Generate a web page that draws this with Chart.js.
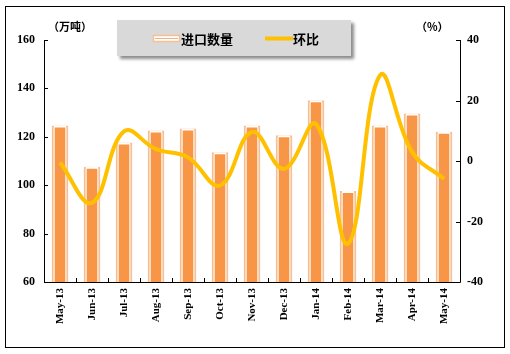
<!DOCTYPE html>
<html>
<head>
<meta charset="utf-8">
<script src="https://cdn.jsdelivr.net/npm/chart.js@4/dist/chart.umd.min.js"></script>
<style>
  html, body { margin: 0; padding: 0; background: #fff; }
  canvas { display: block; }
</style>
</head>
<body>
<canvas id="chart" width="510" height="354"></canvas>
<script>
"use strict";

// data
var months = ["May-13", "Jun-13", "Jul-13", "Aug-13", "Sep-13", "Oct-13", "Nov-13",
              "Dec-13", "Jan-14", "Feb-14", "Mar-14", "Apr-14", "May-14"];
var importVolume = [124.5, 107.5, 117.5, 122.5, 123.3, 113.5, 124.5, 120.5, 135, 97.5, 124.5, 129.5, 122];
var momChange = [-0.5, -13.8, 9.8, 3.9, 1.2, -8.1, 9.6, -2.6, 12.2, -27.3, 28.3, 3, -5.9];

var leftTicks = { min: 60, max: 160, step: 20 };
var rightTicks = { min: -40, max: 40, step: 20 };

var seriesNames = ["进口数量", "环比"];
var unitLeft = "（万吨）";
var unitRight = "（%）";

var ORANGE = "#F79646";
var PEACH = "#F8BF93";
var GOLD = "#FFC000";

var tickFont = { family: "'Liberation Serif', 'DejaVu Serif', serif", size: 12, weight: "bold" };
var cjkFont = "'Noto Sans CJK SC', sans-serif";

// frame, legend box, axis lines and inner tick marks
var decorPlugin = {
    id: "decor",
    beforeDraw: function (chart) {
        var ctx = chart.ctx;
        ctx.save();
        ctx.fillStyle = "#fff";
        ctx.fillRect(0, 0, chart.width, chart.height);
        ctx.restore();
    },
    afterDatasetsDraw: function (chart) {
        var ctx = chart.ctx;
        var area = chart.chartArea;
        var y = chart.scales.y;
        var y1 = chart.scales.y1;
        var i, p;

        ctx.save();
        ctx.strokeStyle = "#000";
        ctx.lineWidth = 1;

        // axis lines
        ctx.beginPath();
        ctx.moveTo(Math.round(area.left) + 0.5, area.top);
        ctx.lineTo(Math.round(area.left) + 0.5, Math.round(area.bottom) + 0.5);
        ctx.lineTo(Math.round(area.right) + 0.5, Math.round(area.bottom) + 0.5);
        ctx.lineTo(Math.round(area.right) + 0.5, area.top);
        ctx.stroke();

        // ticks pointing inward
        ctx.beginPath();
        for (i = leftTicks.min; i <= leftTicks.max; i += leftTicks.step) {
            p = Math.round(y.getPixelForValue(i)) + 0.5;
            ctx.moveTo(area.left, p);
            ctx.lineTo(area.left + 4, p);
        }
        for (i = rightTicks.min; i <= rightTicks.max; i += rightTicks.step) {
            p = Math.round(y1.getPixelForValue(i)) + 0.5;
            ctx.moveTo(area.right, p);
            ctx.lineTo(area.right - 4, p);
        }
        var slot = (area.right - area.left) / months.length;
        for (i = 1; i < months.length; i++) {
            p = Math.round(area.left + i * slot) + 0.5;
            ctx.moveTo(p, area.bottom);
            ctx.lineTo(p, area.bottom - 4);
        }
        ctx.stroke();

        // unit labels
        ctx.fillStyle = "#000";
        ctx.font = "bold 11px " + cjkFont;
        ctx.textBaseline = "middle";
        ctx.textAlign = "left";
        ctx.fillText(unitLeft, 48, 27);
        ctx.fillText(unitRight, 416, 27);

        // legend box with shadow
        ctx.save();
        ctx.shadowColor = "rgba(0,0,0,0.45)";
        ctx.shadowOffsetX = 3;
        ctx.shadowOffsetY = 3;
        ctx.shadowBlur = 3;
        ctx.fillStyle = "#D9D9D9";
        ctx.fillRect(117, 20, 234, 36);
        ctx.restore();

        // bar swatch
        ctx.fillStyle = "#fff";
        ctx.fillRect(153, 35, 27, 7);
        ctx.strokeStyle = PEACH;
        ctx.lineWidth = 1.5;
        ctx.strokeRect(153.5, 35.5, 26, 6);
        ctx.strokeStyle = "#F2B07A";
        ctx.lineWidth = 1;
        ctx.beginPath();
        ctx.moveTo(155, 38.5);
        ctx.lineTo(178, 38.5);
        ctx.stroke();

        // line swatch
        ctx.strokeStyle = GOLD;
        ctx.lineWidth = 4;
        ctx.beginPath();
        ctx.moveTo(265, 38.5);
        ctx.lineTo(293, 38.5);
        ctx.stroke();

        ctx.fillStyle = "#000";
        ctx.font = "bold 13px " + cjkFont;
        ctx.fillText(seriesNames[0], 181, 39);
        ctx.fillText(seriesNames[1], 293, 39);

        // outer frame
        ctx.strokeStyle = "#000";
        ctx.lineWidth = 1;
        ctx.strokeRect(5.5, 6.5, 499, 341);
        ctx.restore();
    }
};

var ctx = document.getElementById("chart").getContext("2d");

var chart = new Chart(ctx, {
    type: "bar",
    data: {
        labels: months,
        datasets: [
            {
                type: "line",
                label: seriesNames[1],
                data: momChange,
                yAxisID: "y1",
                borderColor: GOLD,
                borderWidth: 4,
                pointRadius: 0,
                tension: 0.4,
                fill: false,
                order: 0
            },
            {
                label: seriesNames[0],
                data: importVolume,
                yAxisID: "y",
                backgroundColor: ORANGE,
                borderColor: "#fff",
                borderWidth: { top: 2, left: 1, right: 1, bottom: 0 },
                borderSkipped: false,
                barThickness: 12,
                grouped: false,
                order: 1
            },
            {
                label: seriesNames[0] + "-outline",
                data: importVolume,
                yAxisID: "y",
                backgroundColor: "#fff",
                borderColor: PEACH,
                borderWidth: { top: 2, left: 2, right: 2, bottom: 0 },
                borderSkipped: false,
                barThickness: 16,
                grouped: false,
                order: 2
            }
        ]
    },
    options: {
        responsive: false,
        animation: false,
        layout: { padding: { top: 40, left: 0, right: 0, bottom: 0 } },
        plugins: {
            legend: { display: false },
            tooltip: { enabled: false }
        },
        scales: {
            x: {
                offset: true,
                grid: { display: false, drawTicks: false },
                border: { display: false },
                ticks: {
                    color: "#000",
                    font: { family: tickFont.family, size: 11, weight: "bold" },
                    minRotation: 90,
                    maxRotation: 90,
                    padding: 6,
                    autoSkip: false
                },
                afterFit: function (scale) { scale.height = 72; }
            },
            y: {
                position: "left",
                min: leftTicks.min,
                max: leftTicks.max,
                grid: { display: false, drawTicks: false },
                border: { display: false },
                ticks: { stepSize: leftTicks.step, color: "#000", font: tickFont, padding: 9 },
                afterFit: function (scale) { scale.width = 44; }
            },
            y1: {
                position: "right",
                min: rightTicks.min,
                max: rightTicks.max,
                grid: { display: false, drawTicks: false },
                border: { display: false },
                ticks: { stepSize: rightTicks.step, color: "#000", font: tickFont, padding: 7 },
                afterFit: function (scale) { scale.width = 50; }
            }
        }
    },
    plugins: [decorPlugin]
});
</script>
</body>
</html>
